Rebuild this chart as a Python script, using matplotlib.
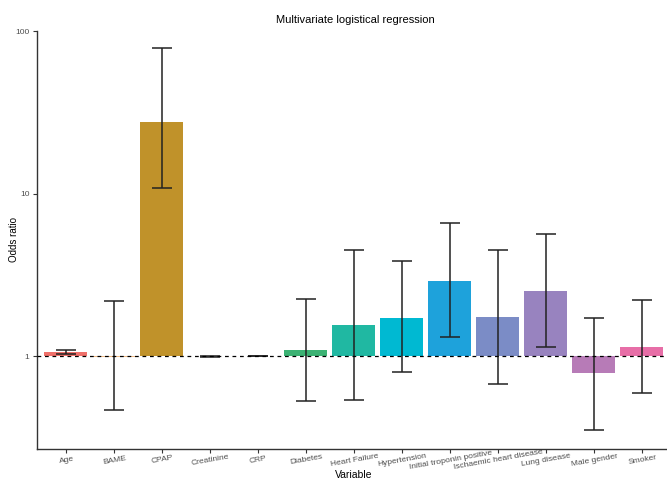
import numpy as np
import matplotlib.pyplot as plt

variables = ["Age", "BAME", "CPAP", "Creatinine", "CRP", "Diabetes", "Heart Failure",
             "Hypertension", "Initial troponin positive", "Ischaemic heart disease",
             "Lung disease", "Male gender", "Smoker"]
odds = [1.06, 0.99, 27.4, 1.0, 1.005, 1.09, 1.55, 1.73, 2.91, 1.75, 2.51, 0.79, 1.15]
ci_low = [1.03, 0.47, 10.8, 0.995, 1.0, 0.53, 0.54, 0.80, 1.32, 0.675, 1.15, 0.354, 0.60]
ci_high = [1.09, 2.18, 78.6, 1.005, 1.01, 2.25, 4.5, 3.84, 6.63, 4.51, 5.64, 1.72, 2.21]
colours = ["#EF706A", "#F2BE8A", "#C0922A", "#8FA940", "#4DB14A", "#3BB273", "#20B8A2",
           "#00B9D2", "#1EA2DB", "#7B8CC6", "#9883BF", "#B77BB7", "#E76EA7"]

plt.rcParams["font.family"] = ["Liberation Sans", "DejaVu Sans"]

fig = plt.figure(figsize=(6.67, 4.8), dpi=100)
ax = fig.add_axes([37 / 667, 31 / 480, 633.6 / 667, 418 / 480])

x = np.arange(len(variables))
odds = np.array(odds)
ax.bar(x, odds - 1, bottom=1, width=0.9, color=colours, zorder=2)
err = [odds - np.array(ci_low), np.array(ci_high) - odds]
ax.errorbar(x, odds, yerr=err, fmt="none", ecolor="#222222", elinewidth=1.1,
            capsize=7, capthick=1.1, zorder=3)
ax.axhline(1, color="black", linestyle=(0, (3, 3)), linewidth=0.9, zorder=4)

ax.set_yscale("log")
ax.set_ylim(0.27, 100)
ax.set_xlim(-0.6, 12.6)
ax.set_yticks([1, 10, 100])
ax.set_yticklabels(["1", "10", "100"])
ax.minorticks_off()
ax.set_xticks(x)
ax.set_xticklabels(variables, rotation=10, ha="center", va="top",
                   rotation_mode="anchor")
ax.tick_params(axis="both", labelsize=6, labelcolor="#4d4d4d", color="#333333",
               length=3, width=0.8, pad=2.5)

for side in ["top", "right"]:
    ax.spines[side].set_visible(False)
for side in ["left", "bottom"]:
    ax.spines[side].set_color("#333333")
    ax.spines[side].set_linewidth(1.0)

fig.text(354 / 667, 1 - 475 / 480, "Variable", ha="center", va="center", fontsize=7.5)
fig.text(14 / 667, 1 - 240 / 480, "Odds ratio", ha="center", va="center",
         rotation=90, fontsize=7)
fig.text(355 / 667, 1 - 20 / 480, "Multivariate logistical regression", ha="center",
         va="center", fontsize=8)

fig.savefig("out.png", dpi=100)
